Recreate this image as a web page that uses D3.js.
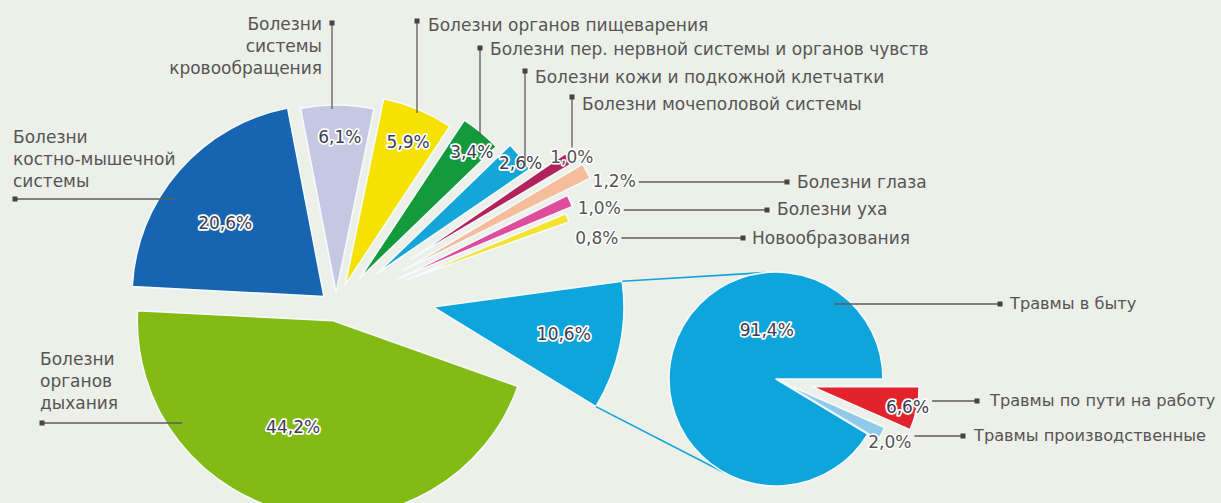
<!DOCTYPE html>
<html><head><meta charset="utf-8">
<script src="https://cdn.jsdelivr.net/npm/d3@7"></script>
<style>
html,body{margin:0;padding:0;background:#edefe9;}
svg{display:block;}
text{font-family:"DejaVu Sans",sans-serif;}
</style></head><body>
<svg id="c" width="1221" height="503"></svg>
<script>
// ---------- DATA ----------
const categories = ["Травмы","Болезни органов дыхания","Болезни костно-мышечной системы","Болезни системы кровообращения","Болезни органов пищеварения","Болезни пер. нервной системы и органов чувств","Болезни кожи и подкожной клетчатки","Болезни мочеполовой системы","Болезни глаза","Болезни уха","Новообразования"];
const shares = [10.6, 44.2, 20.6, 6.1, 5.9, 3.4, 2.6, 1.0, 1.2, 1.0, 0.8];
const injuryTypes = ["Травмы в быту","Травмы по пути на работу","Травмы производственные"];
const injuryShares = [91.4, 6.6, 2.0];

// ---------- STYLE / LAYOUT ----------
const colors = ["#0ea5dc","#84ba14","#1764b0","#c6c7e3","#f6e200","#139a3b","#14a6d8","#b3235b","#f6bd9a","#e04c9c","#f4e22c"];
const injuryColors = ["#0ea5dc","#e3232c","#8fcbe9"];
const center = {x:336, y:307};
const explode = [97, 14, 16, 14, 24, 37, 53, 90, 77, 68, 76];
const radius  = [191, 196, 192, 188, 190, 190, 185, 186, 208, 189, 172];
const labelTurn = [0, 9.4, -4.5, 1, 1.3, 1.8, 1.5, 0, 5.4, 4.9, 8.7];
const labelFrac = [0.7, 0.58, 0.64, 0.83, 0.82, 0.89, 0.98, 1.02, 1.1, 1.13, 1.13];
const center2 = {x:776, y:379}, r2 = 107;
const explode2 = [0, 37, 9];
const radius2 = [107, 107, 110];
const labelTurn2 = [64, 0, 1.6];
const labelFrac2 = [0.47, 0.91, 1.1];

const svg = d3.select("#c");
const fmt = v => d3.format(".1f")(v).replace(".", ",") + "%";
const dir = a => [Math.sin(a), -Math.cos(a)];
const rad = d => d*Math.PI/180;
const ink = "#555";

// ---------- MAIN PIE ----------
const total = d3.sum(shares);
const half = Math.PI * shares[0] / total;
const pie = d3.pie().sort(null).value(d=>d)
  .startAngle(Math.PI/2 - half).endAngle(Math.PI/2 - half + 2*Math.PI);
const arcs = pie(shares);
const apex = arcs.map((a,i)=>{
  const m=(a.startAngle+a.endAngle)/2, d=dir(m);
  return {x:center.x+explode[i]*d[0], y:center.y+explode[i]*d[1], mid:m};
});

const gMain = svg.append("g");
const labelPos = [];
const ap0 = apex[0];
const rotRad = Math.atan2(center2.y-ap0.y, center2.x-ap0.x);
const rot = rotRad*180/Math.PI;

arcs.forEach((a,i)=>{
  const arcGen = d3.arc().innerRadius(0).outerRadius(radius[i]);
  const g = gMain.append("g").attr("transform", i===0
      ? `translate(${apex[i].x},${apex[i].y}) rotate(${rot})`
      : `translate(${apex[i].x},${apex[i].y})`);
  g.append("path").attr("d", arcGen(a)).attr("fill", colors[i])
    .attr("stroke","#f4fbfd").attr("stroke-width",1.6).attr("stroke-linejoin","round");
  if(i===0){
    labelPos.push({x:ap0.x+labelFrac[0]*radius[0]*Math.cos(rotRad), y:ap0.y+labelFrac[0]*radius[0]*Math.sin(rotRad)});
  } else {
    const la = apex[i].mid + rad(labelTurn[i]);
    const d = dir(la), rr = labelFrac[i]*radius[i];
    labelPos.push({x:apex[i].x+d[0]*rr, y:apex[i].y+d[1]*rr});
  }
});

// connectors from injuries wedge to the second pie
(function(){
  const dx=center2.x-ap0.x, dy=center2.y-ap0.y, D=Math.hypot(dx,dy);
  const t=Math.asin(r2/D), L=Math.sqrt(D*D-r2*r2);
  const a0=arcs[0], hw=(a0.endAngle-a0.startAngle)/2;
  [-1,1].forEach(s=>{
    const cx=ap0.x+radius[0]*Math.cos(rotRad+s*hw), cy=ap0.y+radius[0]*Math.sin(rotRad+s*hw);
    const tx=ap0.x+L*Math.cos(rotRad+s*t), ty=ap0.y+L*Math.sin(rotRad+s*t);
    svg.append("line").attr("x1",cx).attr("y1",cy).attr("x2",tx).attr("y2",ty)
      .attr("stroke",colors[0]).attr("stroke-width",1.6);
  });
})();

// ---------- SECOND PIE ----------
const total2 = d3.sum(injuryShares);
const s2 = Math.PI/2 + 2*Math.PI*(1 - injuryShares[0]/total2);
const pie2 = d3.pie().sort(null).value(d=>d).startAngle(s2).endAngle(s2+2*Math.PI);
const arcs2 = pie2(injuryShares);
const labelPos2 = [];
arcs2.forEach((a,i)=>{
  const m=(a.startAngle+a.endAngle)/2, d=dir(m);
  const ax=center2.x+explode2[i]*d[0], ay=center2.y+explode2[i]*d[1];
  svg.append("path").attr("transform",`translate(${ax},${ay})`)
    .attr("d", d3.arc().innerRadius(0).outerRadius(radius2[i])(a))
    .attr("fill", injuryColors[i]).attr("stroke","#f4fbfd").attr("stroke-width",1.6).attr("stroke-linejoin","round");
  const ld = dir(m+rad(labelTurn2[i])), rr=labelFrac2[i]*radius2[i];
  labelPos2.push({x:ax+ld[0]*rr, y:ay+ld[1]*rr});
});

// ---------- PERCENT LABELS ----------
function pct(p, v, outside){
  return svg.append("text").attr("x",p.x).attr("y",p.y+6).attr("text-anchor","middle")
    .attr("font-size",17).attr("fill", outside?"#555":"#3c3d4f")
    .attr("stroke","#ffffff").attr("stroke-width", outside?3:3.5).attr("stroke-linejoin","round")
    .attr("paint-order","stroke").text(fmt(v));
}
const pctNodes = shares.map((v,i)=>pct(labelPos[i], v, i>=7));
const pctNodes2 = injuryShares.map((v,i)=>pct(labelPos2[i], v, i===2));

// ---------- CATEGORY LABELS ----------
function marker(x,y){
  svg.append("rect").attr("x",x-2.5).attr("y",y-2.5).attr("width",5).attr("height",5).attr("fill","#444");
}
function leader(x1,y1,x2,y2){
  svg.append("line").attr("x1",x1).attr("y1",y1).attr("x2",x2).attr("y2",y2)
    .attr("stroke","#5c5c5c").attr("stroke-width",1.3);
}
function textBlock(lines, x, ys, anchor, size){
  lines.forEach((l,k)=>svg.append("text").attr("x",x).attr("y",ys[k]).attr("text-anchor",anchor)
    .attr("font-size",size||17).attr("fill",ink).text(l));
}
function arcTopY(i,x){ const a=apex[i]; return a.y-Math.sqrt(radius[i]**2-(x-a.x)**2); }
function arcLeftX(i,y){ const a=apex[i]; return a.x-Math.sqrt(radius[i]**2-(y-a.y)**2); }
function bboxRight(node){ const b=node.node().getBBox(); return b.x+b.width; }

const notes = [
  {i:3, multi:true, tx:322, anchor:"end", ty:[30,52,74], mx:332, my:23, kind:"down"},
  {i:4, tx:428, anchor:"start", ty:[31], mx:417, my:21, kind:"down"},
  {i:5, tx:490, anchor:"start", ty:[55], mx:480, my:48, kind:"down"},
  {i:6, tx:535, anchor:"start", ty:[83], mx:525, my:71, kind:"down"},
  {i:7, tx:582, anchor:"start", ty:[110], mx:572, my:97, kind:"toLabel"},
  {i:8, tx:797, anchor:"start", ty:[188], mx:787, my:182, kind:"fromLabel"},
  {i:9, tx:777, anchor:"start", ty:[215], mx:767, my:210, kind:"fromLabel"},
  {i:10, tx:752, anchor:"start", ty:[244], mx:743, my:238, kind:"fromLabel"},
  {i:2, multi:true, tx:13, anchor:"start", ty:[143,165,187], mx:15, my:199, kind:"right"},
  {i:1, multi:true, tx:40, anchor:"start", ty:[365,387,409], mx:42, my:423, kind:"right"}
];
notes.forEach(n=>{
  const name = categories[n.i];
  textBlock(n.multi? name.split(" ") : [name], n.tx, n.ty, n.anchor);
  if(n.kind==="down") leader(n.mx,n.my,n.mx,arcTopY(n.i,n.mx)+4);
  else if(n.kind==="toLabel") leader(n.mx,n.my,n.mx,labelPos[n.i].y-9);
  else if(n.kind==="fromLabel") leader(bboxRight(pctNodes[n.i])+3,n.my,n.mx,n.my);
  else if(n.kind==="right") leader(n.mx,n.my,arcLeftX(n.i,n.my)+16,n.my);
  marker(n.mx,n.my);
});

// injury type labels
const notes2 = [
  {i:0, tx:1010, ty:309, mx:1000, my:304},
  {i:1, tx:990, ty:406, mx:977, my:401},
  {i:2, tx:974, ty:441, mx:963, my:436}
];
notes2.forEach(n=>{
  textBlock([injuryTypes[n.i]], n.tx, [n.ty], "start", 16.2);
  let x1;
  if(n.i===0){ const dy=n.my-center2.y; x1 = center2.x+Math.sqrt(r2*r2-dy*dy)-18; }
  else x1 = bboxRight(pctNodes2[n.i])+3;
  leader(x1,n.my,n.mx,n.my);
  marker(n.mx,n.my);
});
</script>
</body></html>
